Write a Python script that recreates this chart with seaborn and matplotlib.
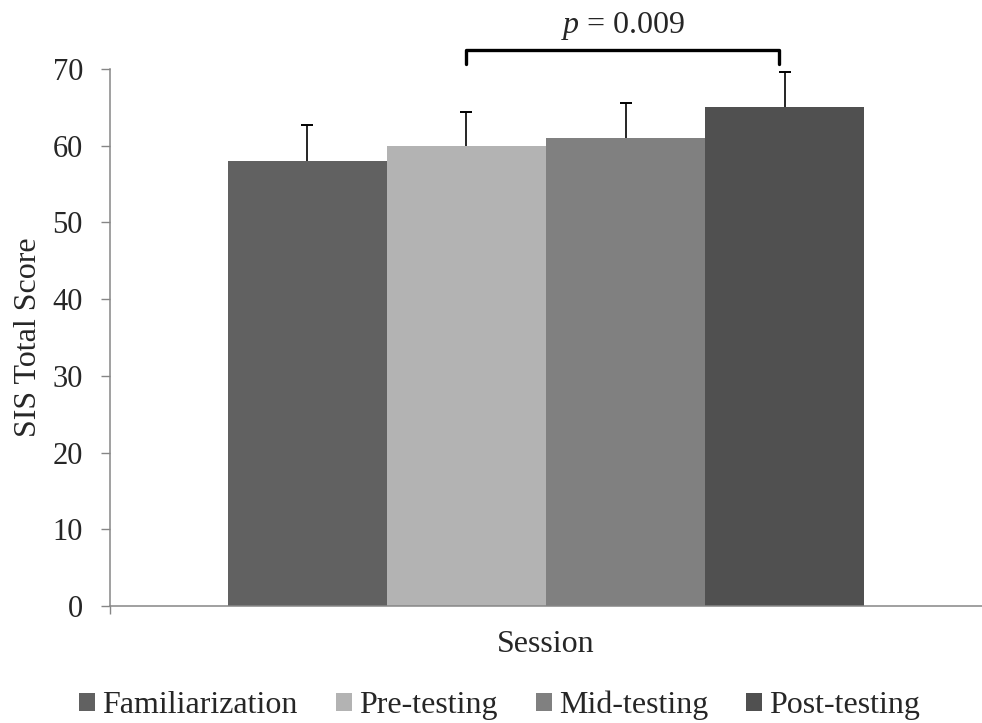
import seaborn as sns
import matplotlib.pyplot as plt
import pandas as pd

# data
sessions = ["Familiarization", "Pre-testing", "Mid-testing", "Post-testing"]
scores = [58, 60, 61, 65]
errors = [4.7, 4.4, 4.6, 4.6]
bar_colors = ["#616161", "#b3b3b3", "#808080", "#505050"]
p_label = "$p$ = 0.009"

df = pd.DataFrame({"group": ["Session"] * 4, "session": sessions, "score": scores})

sns.set_style("white")
plt.rcParams["font.family"] = ["Liberation Serif", "DejaVu Serif"]
plt.rcParams["mathtext.fontset"] = "custom"
plt.rcParams["mathtext.rm"] = "Liberation Serif"
plt.rcParams["mathtext.it"] = "Liberation Serif:italic"

fig = plt.figure(figsize=(9.82, 7.23), dpi=100)
ax = fig.add_axes([0.112, 0.1618, 0.888, 0.743])

sns.barplot(data=df, x="group", y="score", hue="session", hue_order=sessions,
            palette=bar_colors, saturation=1, width=0.73, gap=0,
            errorbar=None, legend=True, linewidth=0, edgecolor="none", ax=ax)

# upper-only error bars: stem + top cap
centers = []
for cont, err in zip(ax.containers, errors):
    bar = cont.patches[0]
    cx = bar.get_x() + bar.get_width() / 2
    top = bar.get_height()
    centers.append(cx)
    ax.vlines(cx, top, top + err, color="black", lw=1.2)
    ax.plot(cx, top + err, marker="_", markersize=9, markeredgewidth=1.4,
            color="black")

ax.set_ylim(0, 70)
ax.set_yticks(range(0, 71, 10))
ax.set_xlim(-0.5, 0.5)
ax.set_xticks([-0.5])
ax.set_xticklabels([""])
ax.tick_params(axis="y", labelsize=22, length=6.5, width=1, color="#868686",
               left=True, pad=13)
ax.tick_params(axis="x", length=6, width=1, color="#868686", bottom=True)
ax.set_ylabel("SIS Total Score", fontsize=23)
ax.yaxis.set_label_coords(-0.077, 0.5)
ax.set_xlabel("Session", fontsize=23)
ax.xaxis.set_label_coords(0.5, -0.045)

sns.despine(ax=ax)
for side in ["left", "bottom"]:
    ax.spines[side].set_color("#868686")
    ax.spines[side].set_linewidth(1.1)

# significance bracket
x1, x2 = centers[1], centers[3] - 0.006
ax.plot([x1, x1, x2, x2], [70.6, 72.5, 72.5, 70.6], color="black", lw=2.4,
        solid_joinstyle="round", solid_capstyle="round", clip_on=False)
ax.text((x1 + x2) / 2, 75.6, p_label, fontsize=23, ha="center", va="center")

handles, labels = ax.get_legend_handles_labels()
ax.get_legend().remove()
fig.legend(handles, labels, loc="center", bbox_to_anchor=(0.509, 0.024), ncol=4,
           frameon=False, fontsize=23, handlelength=0.5, handleheight=0.53,
           handletextpad=0.22, columnspacing=1.2, borderpad=0)

fig.savefig("out.png", dpi=100)
